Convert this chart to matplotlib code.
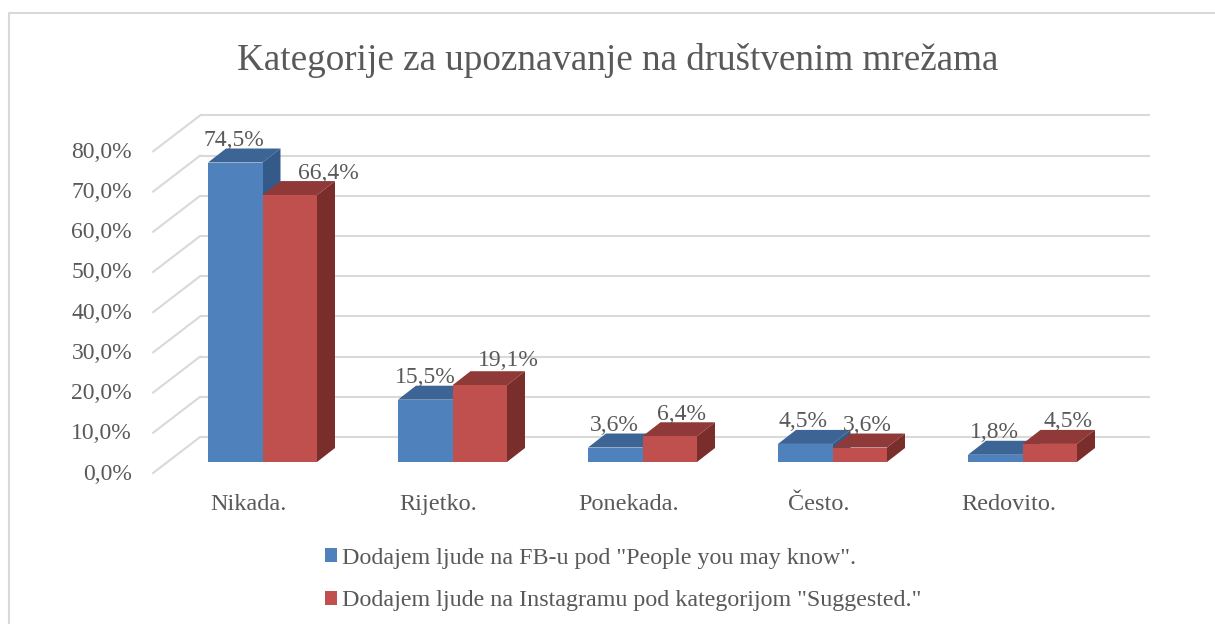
import matplotlib
matplotlib.use("Agg")
import matplotlib.pyplot as plt
from matplotlib.lines import Line2D
from matplotlib.patches import Polygon, Patch

categories = ["Nikada.", "Rijetko.", "Ponekada.", "Često.", "Redovito."]
fb_values = [74.5, 15.5, 3.6, 4.5, 1.8]
ig_values = [66.4, 19.1, 6.4, 3.6, 4.5]
series_names = ['Dodajem ljude na FB-u pod "People you may know".',
                'Dodajem ljude na Instagramu pod kategorijom "Suggested."']
y_ticks = [0, 10, 20, 30, 40, 50, 60, 70, 80]
title = "Kategorije za upoznavanje na društvenim mrežama"

# label baseline offsets from the bar's top centre, in pixels (placement only)
fb_label_shift = [(-1, 16.5), (0, 17), (-1, 16.5), (-2, 17), (-1, 17)]
ig_label_shift = [(39, 16), (29, 19), (12, 16), (8, 16.5), (18, 17)]

W, H = 1215, 624
DPI = 100
TEXT = "#595959"
GRID = "#D9D9D9"
BLUE = ("#4F81BD", "#3C6494", "#335A88")
RED = ("#C0504D", "#8F3A38", "#7A2E2C")
FS = 17

plt.rcParams["font.family"] = ["Liberation Serif", "DejaVu Serif"]
fig = plt.figure(figsize=(W / DPI, H / DPI), dpi=DPI, facecolor="white")

PX_X = 190.0   # pixels per category
PX_Y = 4.02    # pixels per percent
ax = fig.add_axes([167.5 / W, (H - 462) / H, 5 * PX_X / W, 80 * PX_Y / H])
ax.set_xlim(-0.5, 4.5)
ax.set_ylim(0, 80)
ax.axis("off")

# chart frame: only the left and top sides fall inside the picture
fig.add_artist(Line2D([9 / W, 9 / W, 1], [0, 1 - 13 / H, 1 - 13 / H],
                      transform=fig.transFigure, color=GRID, lw=1.5))

# oblique projection offsets
wall_dx, wall_dy = 32.6 / PX_X, 25 / PX_Y
front_dx, front_dy = -14.4 / PX_X, -11 / PX_Y
bar_dx, bar_dy = 18 / PX_X, 14 / PX_Y
bar_w = 54.5 / PX_X

for t in y_ticks:
    ax.plot([-0.5 + wall_dx, 4.5 + wall_dx], [t + wall_dy] * 2, color=GRID,
            lw=1.5, clip_on=False, zorder=1, solid_capstyle="butt")
    ax.plot([-0.5 + front_dx, -0.5 + wall_dx], [t + front_dy, t + wall_dy],
            color=GRID, lw=1.5, clip_on=False, zorder=1)
    ax.annotate(f"{t},0%", xy=(-0.5 + front_dx, t + front_dy), xytext=(-21 * 0.72, -6.5 * 0.72),
                textcoords="offset points", ha="right", va="baseline",
                fontsize=FS, color=TEXT, annotation_clip=False)


def draw_bar(x0, v, cols, z):
    x1 = x0 + bar_w
    ax.add_patch(Polygon([(x0, v), (x1, v), (x1 + bar_dx, v + bar_dy), (x0 + bar_dx, v + bar_dy)],
                         closed=True, fc=cols[1], ec="none", clip_on=False, zorder=z))
    ax.add_patch(Polygon([(x1, 0), (x1 + bar_dx, bar_dy), (x1 + bar_dx, v + bar_dy), (x1, v)],
                         closed=True, fc=cols[2], ec="none", clip_on=False, zorder=z))
    ax.bar(x0, v, width=bar_w, align="edge", color=cols[0], clip_on=False, zorder=z + 0.1)


for i, cat in enumerate(categories):
    draw_bar(i - bar_w, fb_values[i], BLUE, 2 + i)
    draw_bar(i, ig_values[i], RED, 2.5 + i)
    for v, x, shift in ((fb_values[i], i - bar_w / 2, fb_label_shift[i]),
                        (ig_values[i], i + bar_w / 2, ig_label_shift[i])):
        ax.annotate(f"{v:.1f}%".replace(".", ","), xy=(x, v),
                    xytext=(shift[0] * 0.72, shift[1] * 0.72), textcoords="offset points",
                    ha="center", va="baseline", fontsize=FS, color=TEXT, zorder=20,
                    annotation_clip=False)
    ax.annotate(cat, xy=(i, 0), xytext=(-14 * 0.72, -48 * 0.72), textcoords="offset points",
                ha="center", va="baseline", fontsize=17.5, color=TEXT, annotation_clip=False)

fig.text(618 / W, 1 - 69.5 / H, title, ha="center", va="baseline", fontsize=26.7, color=TEXT)

handles = [Patch(fc=BLUE[0], ec="none"), Patch(fc=RED[0], ec="none")]
fig.legend(handles, series_names, loc="upper left",
           bbox_to_anchor=(325 / W, 1 - 548 / H), frameon=False, fontsize=17.3,
           labelcolor=TEXT, handlelength=0.52, handleheight=0.52,
           handletextpad=0.2, labelspacing=0.88, borderpad=0, borderaxespad=0)

fig.savefig("out.png", dpi=DPI)
